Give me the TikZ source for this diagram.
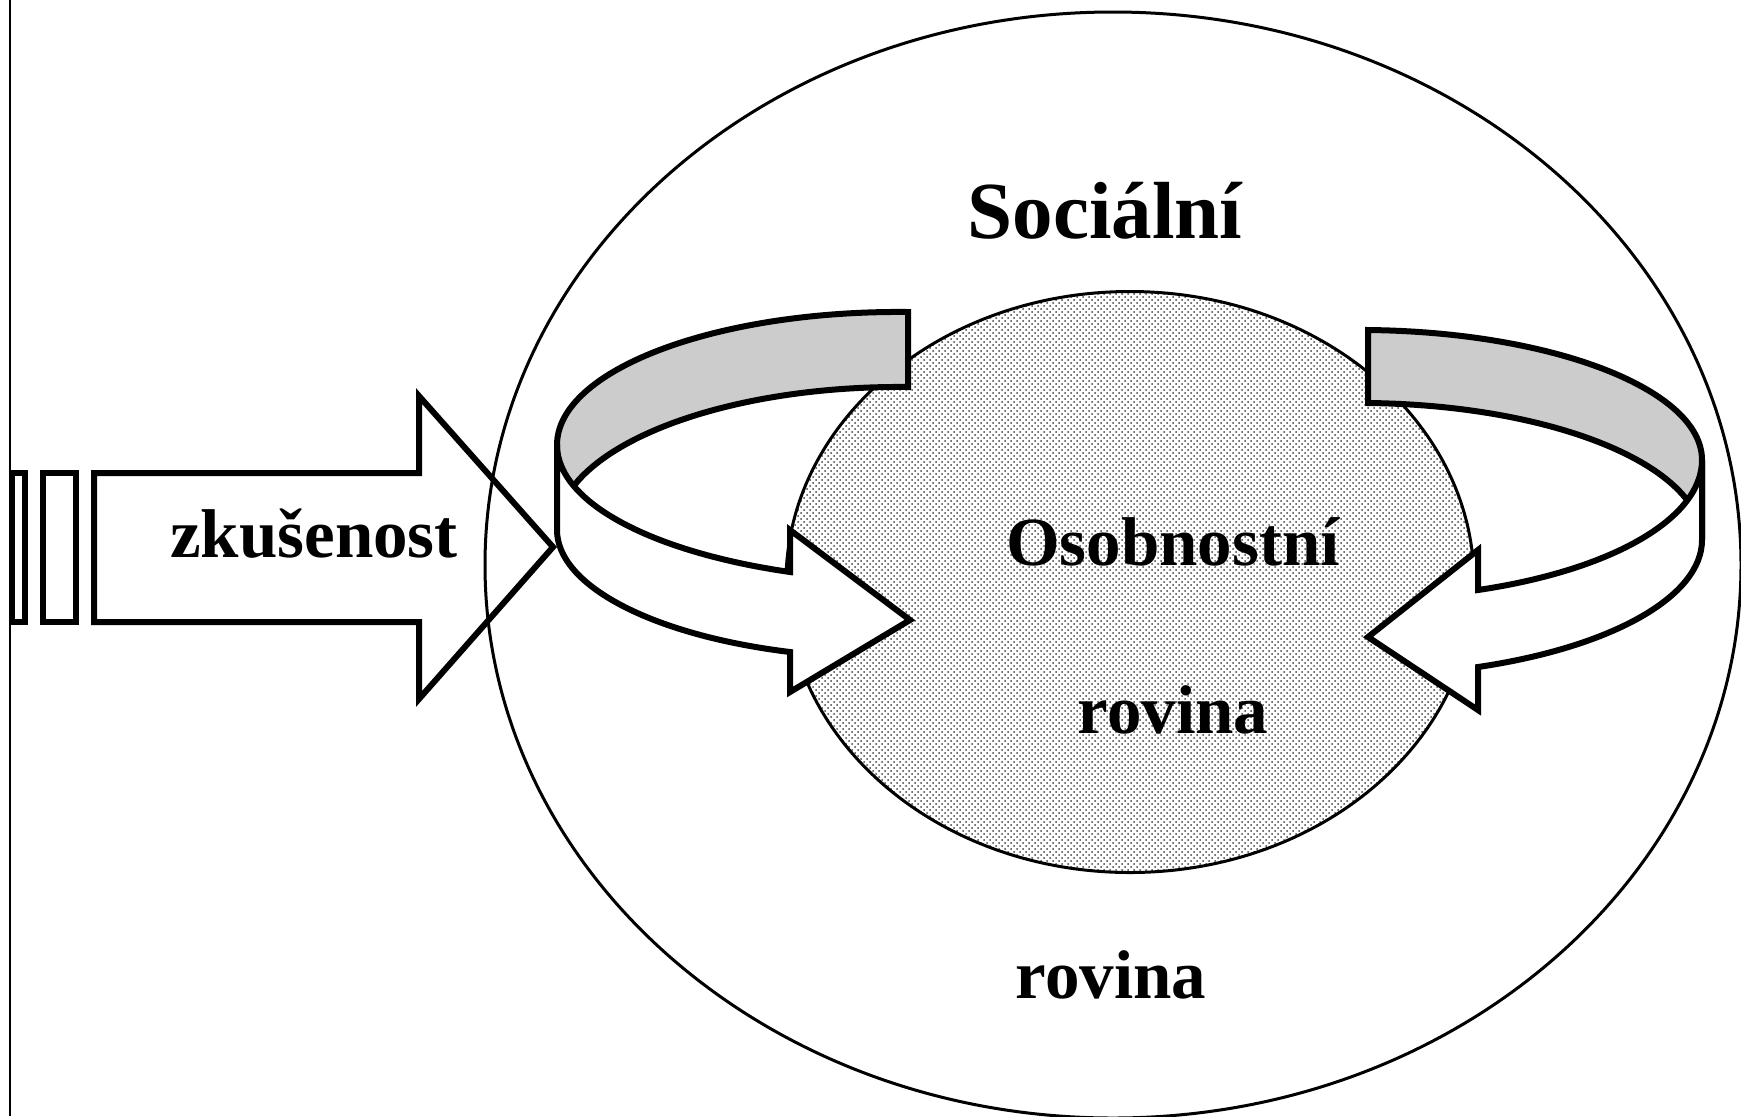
\documentclass[tikz,border=0pt]{standalone}
\usepackage{fontspec}
\setmainfont{Liberation Serif}
\usetikzlibrary{shapes.geometric,patterns}

\begin{document}
\begin{tikzpicture}[x=0.5pt,y=-0.5pt]
    \tikzset{plane/.style={draw,ellipse,inner sep=0pt,line width=1.5pt},
    ribbonback/.style={draw,fill=black!20,line width=3pt},
    ribbonfront/.style={draw,fill=white,line width=3pt},
    blockarrow/.style={draw,line width=3pt},
    word/.style={font=\bfseries\fontsize{34.5}{40}\selectfont,anchor=base,inner sep=0pt},
    bigword/.style={word,font=\bfseries\fontsize{40.5}{46}\selectfont}}
    \useasboundingbox (0,0) rectangle (1741,1116);
    \draw[line width=1pt] (10,0) -- (10,1116);
    \node[plane,minimum width=628pt,minimum height=553pt] (social) at (1113,565) {};
    \node[plane,minimum width=344pt,minimum height=290.5pt,
          pattern=crosshatch dots,pattern color=black!75] (personal) at (1130,582) {};
    % left ribbon
    \draw[ribbonback] (557,445) .. controls (557,370) and (716,310) .. (908,312)
        -- (908,387) .. controls (716,385) and (557,450) .. (557,530) -- cycle;
    \draw[ribbonfront] (557,445) .. controls (557,502) and (651,552) .. (790,572)
        -- (790,530) -- (910,620) -- (790,692) -- (790,652)
        .. controls (651,635) and (557,585) .. (557,530) -- cycle;
    % right ribbon
    \draw[ribbonback] (1702,460) .. controls (1702,390) and (1554,332) .. (1368,330)
        -- (1368,403) .. controls (1554,405) and (1702,466) .. (1702,540) -- cycle;
    \draw[ribbonfront] (1702,460) .. controls (1702,518) and (1613,570) .. (1478,590)
        -- (1478,550) -- (1368,637) -- (1478,710) -- (1478,667)
        .. controls (1613,647) and (1702,596) .. (1702,540) -- cycle;
    % experience arrow
    \draw[blockarrow] (11.5,473) rectangle (24.5,622);
    \draw[blockarrow] (43,473) rectangle (76,622);
    \draw[blockarrow] (94,473) -- (419,473) -- (419,396) -- (553,547)
        -- (419,699) -- (419,622) -- (94,622) -- cycle;
    \node[word] (experience) at (314,557) {zkušenost};
    \node[bigword] (socialname) at (1105,238) {Sociální};
    \node[word] (personalname) at (1173,565) {Osobnostní};
    \node[word] (personalplane) at (1173,733) {rovina};
    \node[word] (socialplane) at (1111,998) {rovina};
\end{tikzpicture}
\end{document}
